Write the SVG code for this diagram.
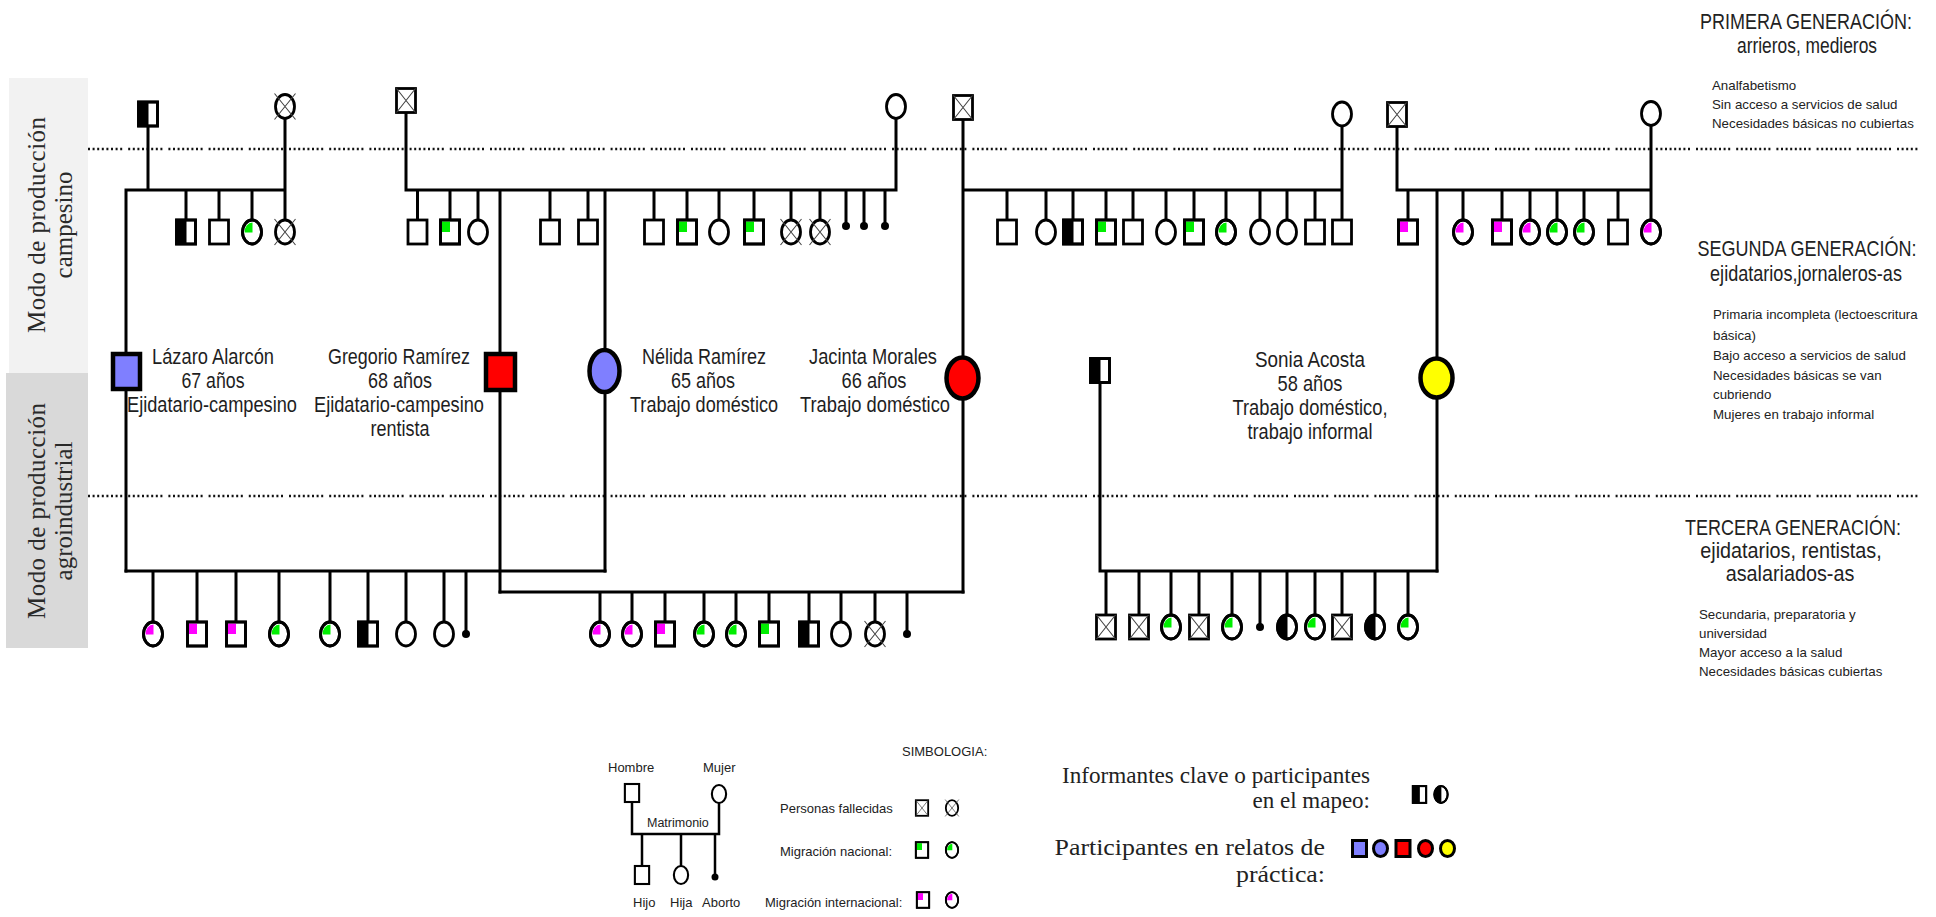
<svg xmlns="http://www.w3.org/2000/svg" width="1936" height="917" viewBox="0 0 1936 917">
<defs>
<style>
.ln{stroke:#000;stroke-width:3;fill:none;stroke-linecap:square}
.o{fill:#fff;stroke:#000;stroke-width:2.8}
.on{fill:none;stroke:#000;stroke-width:2.8}
.x{stroke:#444;stroke-width:1.1;fill:none}
.k{fill:#000}
.g{fill:#00ee00}
.m{fill:#ff00ff}
.big{stroke:#000;stroke-width:4.5}
.dot{stroke:#111;stroke-width:2.5;fill:none;stroke-dasharray:2 2.6 2 2.6 2 2.6 2 2.6 2 2.6 2 2.6 2 2.6 2 6}
.lbl{font-family:"Liberation Sans",Arial,sans-serif;font-size:22px;fill:#1e1e1e;text-anchor:middle}
.hd{font-family:"Liberation Sans",Arial,sans-serif;font-size:22px;fill:#222;text-anchor:middle}
.sm{font-family:"Liberation Sans",Arial,sans-serif;font-size:13.3px;fill:#222}
.lg{font-family:"Liberation Sans",Arial,sans-serif;font-size:13px;fill:#222}
.sf{font-family:"Liberation Serif","Times New Roman",serif;fill:#222;text-anchor:end}
.side{font-family:"Liberation Serif","Times New Roman",serif;font-size:25px;fill:#2a2a2a;text-anchor:middle}
</style>
<g id="sq"><rect class="o" x="-9.5" y="-12" width="19" height="24"/></g>
<g id="ci"><ellipse class="o" rx="9.5" ry="12"/></g>
<g id="sqX"><rect class="o" x="-9.5" y="-12" width="19" height="24"/><path class="x" d="M-9.5,-12L9.5,12M9.5,-12L-9.5,12"/></g>
<g id="ciX"><ellipse class="o" rx="9.5" ry="12"/><path class="x" d="M-10.5,-13L10.5,13M10.5,-13L-10.5,13"/></g>
<g id="sqH"><rect class="o" x="-9.5" y="-12" width="19" height="24"/><rect class="k" x="-9.5" y="-12" width="10" height="24"/><rect class="on" x="-9.5" y="-12" width="19" height="24"/></g>
<g id="ciH"><ellipse class="o" rx="9.5" ry="12"/><path class="k" d="M0.5,-12A9.5,12 0 0 0 0.5,12Z"/><ellipse class="on" rx="9.5" ry="12"/></g>
<g id="sqG"><rect class="o" x="-9.5" y="-12" width="19" height="24"/><rect class="g" x="-8" y="-10.5" width="8" height="10.5"/><rect class="on" x="-9.5" y="-12" width="19" height="24"/></g>
<g id="ciG"><ellipse class="o" rx="9.5" ry="12"/><path class="g" d="M0.5,0.5H-7.5A8,9.5 0 0 1 0.5,-9.5Z"/><ellipse class="on" rx="9.5" ry="12"/></g>
<g id="sqM"><rect class="o" x="-9.5" y="-12" width="19" height="24"/><rect class="m" x="-8" y="-10.5" width="8" height="10.5"/><rect class="on" x="-9.5" y="-12" width="19" height="24"/></g>
<g id="ciM"><ellipse class="o" rx="9.5" ry="12"/><path class="m" d="M0.5,0.5H-7.5A8,9.5 0 0 1 0.5,-9.5Z"/><ellipse class="on" rx="9.5" ry="12"/></g>
<g id="ab"><circle r="4" fill="#000"/></g>
</defs>
<rect width="1936" height="917" fill="#fff"/>

<g id="panels">
<rect x="9" y="78" width="79" height="295" fill="#f2f2f2"/>
<rect x="6" y="373" width="82" height="275" fill="#d9d9d9"/>
<text class="side" transform="translate(45,225) rotate(-90)" textLength="216">Modo de producción</text>
<text class="side" transform="translate(72,225) rotate(-90)">campesino</text>
<text class="side" transform="translate(45,511) rotate(-90)" textLength="216">Modo de producción</text>
<text class="side" transform="translate(72,511) rotate(-90)">agroindustrial</text>
</g>

<g id="guides">
<line class="dot" x1="88" y1="149" x2="1918" y2="149"/>
<line class="dot" x1="88" y1="496" x2="1918" y2="496"/>
</g>

<g id="connectors">
<path class="ln" d="M148,126V190 M126,190H285 M285,118V220 M186,190V220 M219,190V220 M252,190V220 M126,190V571"/>
<path class="ln" d="M406,113V190 M896,118V190 M406,190H896 M417.5,190V220 M450,190V220 M478,190V220 M550,190V220 M588,190V220 M654,190V220 M687,190V220 M719,190V220 M754,190V220 M791,190V220 M820,190V220 M846,190V226 M864,190V226 M885,190V226 M500,190V592 M605,190V571"/>
<path class="ln" d="M963,120V592 M1342,126V220 M963,190H1342 M1007,190V220 M1046,190V220 M1073,190V220 M1106,190V220 M1133,190V220 M1166,190V220 M1194,190V220 M1226,190V220 M1260,190V220 M1287,190V220 M1315,190V220"/>
<path class="ln" d="M1397,127V190 M1651,125V220 M1397,190H1651 M1408,190V220 M1463,190V220 M1502,190V220 M1530,190V220 M1557,190V220 M1584,190V220 M1618,190V220 M1437,190V571"/>
<path class="ln" d="M126,571H605 M153,571V622 M197,571V622 M236,571V622 M279,571V622 M330,571V622 M368,571V622 M406,571V622 M444,571V622 M466,571V634"/>
<path class="ln" d="M500,592H963 M600,592V622 M632,592V622 M665,592V622 M704,592V622 M736,592V622 M769,592V622 M809,592V622 M841,592V622 M875,592V622 M907,592V634"/>
<path class="ln" d="M1100,383V571H1437 M1106,571V615 M1139,571V615 M1171,571V615 M1199,571V615 M1232,571V615 M1260,571V627 M1287,571V615 M1315,571V615 M1342,571V615 M1375,571V615 M1408,571V615"/>
</g>

<g id="gen1">
<g id="a-padre"><use href="#sqH" x="148" y="114"/></g>
<g id="a-madre"><use href="#ciX" x="285" y="106.5"/></g>
<g id="b-padre"><use href="#sqX" x="406" y="100.5"/></g>
<g id="b-madre"><use href="#ci" x="896" y="106.5"/></g>
<g id="c-padre"><use href="#sqX" x="963" y="107.5"/></g>
<g id="c-madre"><use href="#ci" x="1342" y="114"/></g>
<g id="d-padre"><use href="#sqX" x="1397" y="114.5"/></g>
<g id="d-madre"><use href="#ci" x="1651" y="113.5"/></g>
</g>

<g id="gen2">
<g id="a-h1"><use href="#sqH" x="186" y="232"/></g>
<g id="a-h2"><use href="#sq" x="219" y="232"/></g>
<g id="a-h3"><use href="#ciG" x="252" y="232"/></g>
<g id="a-h4"><use href="#ciX" x="285" y="232"/></g>
<g id="b-h1"><use href="#sq" x="417.5" y="232"/></g>
<g id="b-h2"><use href="#sqG" x="450" y="232"/></g>
<g id="b-h3"><use href="#ci" x="478" y="232"/></g>
<g id="b-h4"><use href="#sq" x="550" y="232"/></g>
<g id="b-h5"><use href="#sq" x="588" y="232"/></g>
<g id="b-h6"><use href="#sq" x="654" y="232"/></g>
<g id="b-h7"><use href="#sqG" x="687" y="232"/></g>
<g id="b-h8"><use href="#ci" x="719" y="232"/></g>
<g id="b-h9"><use href="#sqG" x="754" y="232"/></g>
<g id="b-h10"><use href="#ciX" x="791" y="232"/></g>
<g id="b-h11"><use href="#ciX" x="820" y="232"/></g>
<g id="b-ab1"><use href="#ab" x="846" y="226"/></g>
<g id="b-ab2"><use href="#ab" x="864" y="226"/></g>
<g id="b-ab3"><use href="#ab" x="885" y="226"/></g>
<g id="c-h1"><use href="#sq" x="1007" y="232"/></g>
<g id="c-h2"><use href="#ci" x="1046" y="232"/></g>
<g id="c-h3"><use href="#sqH" x="1073" y="232"/></g>
<g id="c-h4"><use href="#sqG" x="1106" y="232"/></g>
<g id="c-h5"><use href="#sq" x="1133" y="232"/></g>
<g id="c-h6"><use href="#ci" x="1166" y="232"/></g>
<g id="c-h7"><use href="#sqG" x="1194" y="232"/></g>
<g id="c-h8"><use href="#ciG" x="1226" y="232"/></g>
<g id="c-h9"><use href="#ci" x="1260" y="232"/></g>
<g id="c-h10"><use href="#ci" x="1287" y="232"/></g>
<g id="c-h11"><use href="#sq" x="1315" y="232"/></g>
<g id="c-h12"><use href="#sq" x="1342" y="232"/></g>
<g id="d-h1"><use href="#sqM" x="1408" y="232"/></g>
<g id="d-h2"><use href="#ciM" x="1463" y="232"/></g>
<g id="d-h3"><use href="#sqM" x="1502" y="232"/></g>
<g id="d-h4"><use href="#ciM" x="1530" y="232"/></g>
<g id="d-h5"><use href="#ciG" x="1557" y="232"/></g>
<g id="d-h6"><use href="#ciG" x="1584" y="232"/></g>
<g id="d-h7"><use href="#sq" x="1618" y="232"/></g>
<g id="d-h8"><use href="#ciM" x="1651" y="232"/></g>

<g id="lazaro"><rect class="big" x="113" y="354" width="27" height="35" fill="#7f7fff"/>
<text class="lbl" x="213" y="364" textLength="122" lengthAdjust="spacingAndGlyphs">Lázaro Alarcón</text>
<text class="lbl" x="213" y="388" textLength="63" lengthAdjust="spacingAndGlyphs">67 años</text>
<text class="lbl" x="212" y="412" textLength="170" lengthAdjust="spacingAndGlyphs">Ejidatario-campesino</text></g>
<g id="gregorio"><rect class="big" x="486" y="354" width="29" height="36" fill="#ff0000"/>
<text class="lbl" x="399" y="364" textLength="142" lengthAdjust="spacingAndGlyphs">Gregorio Ramírez</text>
<text class="lbl" x="400" y="388" textLength="64" lengthAdjust="spacingAndGlyphs">68 años</text>
<text class="lbl" x="399" y="412" textLength="170" lengthAdjust="spacingAndGlyphs">Ejidatario-campesino</text>
<text class="lbl" x="400" y="436" textLength="59" lengthAdjust="spacingAndGlyphs">rentista</text></g>
<g id="nelida"><ellipse class="big" cx="604.5" cy="371" rx="15" ry="21" fill="#7f7fff"/>
<text class="lbl" x="704" y="364" textLength="124" lengthAdjust="spacingAndGlyphs">Nélida Ramírez</text>
<text class="lbl" x="703" y="388" textLength="64" lengthAdjust="spacingAndGlyphs">65 años</text>
<text class="lbl" x="704" y="412" textLength="148" lengthAdjust="spacingAndGlyphs">Trabajo doméstico</text></g>
<g id="jacinta"><ellipse class="big" cx="962.5" cy="378" rx="16" ry="20.5" fill="#ff0000"/>
<text class="lbl" x="873" y="364" textLength="128" lengthAdjust="spacingAndGlyphs">Jacinta Morales</text>
<text class="lbl" x="874" y="388" textLength="65" lengthAdjust="spacingAndGlyphs">66 años</text>
<text class="lbl" x="875" y="412" textLength="150" lengthAdjust="spacingAndGlyphs">Trabajo doméstico</text></g>
<g id="esposo-sonia"><use href="#sqH" x="1100" y="370.5"/></g>
<g id="sonia"><ellipse class="big" cx="1436.5" cy="378" rx="16" ry="19.5" fill="#ffff00"/>
<text class="lbl" x="1310" y="367" textLength="110" lengthAdjust="spacingAndGlyphs">Sonia Acosta</text>
<text class="lbl" x="1310" y="391" textLength="65" lengthAdjust="spacingAndGlyphs">58 años</text>
<text class="lbl" x="1310" y="415" textLength="155" lengthAdjust="spacingAndGlyphs">Trabajo doméstico,</text>
<text class="lbl" x="1310" y="439" textLength="125" lengthAdjust="spacingAndGlyphs">trabajo informal</text></g>
</g>

<g id="gen3">
<g id="ln-h1"><use href="#ciM" x="153" y="634"/></g>
<g id="ln-h2"><use href="#sqM" x="197" y="634"/></g>
<g id="ln-h3"><use href="#sqM" x="236" y="634"/></g>
<g id="ln-h4"><use href="#ciG" x="279" y="634"/></g>
<g id="ln-h5"><use href="#ciG" x="330" y="634"/></g>
<g id="ln-h6"><use href="#sqH" x="368" y="634"/></g>
<g id="ln-h7"><use href="#ci" x="406" y="634"/></g>
<g id="ln-h8"><use href="#ci" x="444" y="634"/></g>
<g id="ln-ab"><use href="#ab" x="466" y="634"/></g>
<g id="gj-h1"><use href="#ciM" x="600" y="634"/></g>
<g id="gj-h2"><use href="#ciM" x="632" y="634"/></g>
<g id="gj-h3"><use href="#sqM" x="665" y="634"/></g>
<g id="gj-h4"><use href="#ciG" x="704" y="634"/></g>
<g id="gj-h5"><use href="#ciG" x="736" y="634"/></g>
<g id="gj-h6"><use href="#sqG" x="769" y="634"/></g>
<g id="gj-h7"><use href="#sqH" x="809" y="634"/></g>
<g id="gj-h8"><use href="#ci" x="841" y="634"/></g>
<g id="gj-h9"><use href="#ciX" x="875" y="634"/></g>
<g id="gj-ab"><use href="#ab" x="907" y="634"/></g>
<g id="s-h1"><use href="#sqX" x="1106" y="627"/></g>
<g id="s-h2"><use href="#sqX" x="1139" y="627"/></g>
<g id="s-h3"><use href="#ciG" x="1171" y="627"/></g>
<g id="s-h4"><use href="#sqX" x="1199" y="627"/></g>
<g id="s-h5"><use href="#ciG" x="1232" y="627"/></g>
<g id="s-ab"><use href="#ab" x="1260" y="627"/></g>
<g id="s-h6"><use href="#ciH" x="1287" y="627"/></g>
<g id="s-h7"><use href="#ciG" x="1315" y="627"/></g>
<g id="s-h8"><use href="#sqX" x="1342" y="627"/></g>
<g id="s-h9"><use href="#ciH" x="1375" y="627"/></g>
<g id="s-h10"><use href="#ciG" x="1408" y="627"/></g>
</g>

<g id="generaciones">
<text class="hd" transform="translate(1806,29) scale(0.818,1)">PRIMERA GENERACIÓN:</text>
<text class="hd" transform="translate(1807,53) scale(0.79,1)">arrieros, medieros</text>
<text class="sm" x="1712" y="90">Analfabetismo</text>
<text class="sm" x="1712" y="109">Sin acceso a servicios de salud</text>
<text class="sm" x="1712" y="128">Necesidades básicas no cubiertas</text>
<text class="hd" transform="translate(1807,256) scale(0.818,1)">SEGUNDA GENERACIÓN:</text>
<text class="hd" transform="translate(1806,281) scale(0.822,1)">ejidatarios,jornaleros-as</text>
<text class="sm" x="1713" y="319">Primaria incompleta (lectoescritura</text>
<text class="sm" x="1713" y="340">básica)</text>
<text class="sm" x="1713" y="360">Bajo acceso a servicios de salud</text>
<text class="sm" x="1713" y="380">Necesidades básicas se van</text>
<text class="sm" x="1713" y="399">cubriendo</text>
<text class="sm" x="1713" y="419">Mujeres en trabajo informal</text>
<text class="hd" transform="translate(1793,535) scale(0.818,1)">TERCERA GENERACIÓN:</text>
<text class="hd" transform="translate(1791,558) scale(0.9,1)">ejidatarios, rentistas,</text>
<text class="hd" transform="translate(1790,581) scale(0.9,1)">asalariados-as</text>
<text class="sm" x="1699" y="619">Secundaria, preparatoria y</text>
<text class="sm" x="1699" y="638">universidad</text>
<text class="sm" x="1699" y="657">Mayor acceso a la salud</text>
<text class="sm" x="1699" y="676">Necesidades básicas cubiertas</text>
</g>

<g id="simbologia">
<path class="ln" style="stroke-width:2.5" d="M632,802V834H719V803 M642,834V867 M681,834V866 M715,834V877"/>
<g id="lg-hombre"><use href="#sq" transform="translate(632,793) scale(0.75)"/><text class="lg" x="608" y="772">Hombre</text></g>
<g id="lg-mujer"><use href="#ci" transform="translate(719,794) scale(0.75)"/><text class="lg" x="703" y="772">Mujer</text></g>
<text class="lg" x="647" y="827" style="font-size:12.5px">Matrimonio</text>
<g id="lg-hijo"><use href="#sq" transform="translate(642,875) scale(0.75)"/><text class="lg" x="633" y="907">Hijo</text></g>
<g id="lg-hija"><use href="#ci" transform="translate(681,875) scale(0.75)"/><text class="lg" x="670" y="907">Hija</text></g>
<g id="lg-aborto"><circle cx="715" cy="877" r="3.5" fill="#000"/><text class="lg" x="702" y="907">Aborto</text></g>
<text class="lg" x="902" y="756">SIMBOLOGIA:</text>
<text class="lg" x="780" y="813">Personas fallecidas</text>
<use href="#sqX" transform="translate(922,808) scale(0.65)"/>
<use href="#ciX" transform="translate(952,808) scale(0.65)"/>
<text class="lg" x="780" y="856">Migración nacional:</text>
<use href="#sqG" transform="translate(922,850) scale(0.65)"/>
<use href="#ciG" transform="translate(952,850) scale(0.65)"/>
<text class="lg" x="765" y="907">Migración internacional:</text>
<use href="#sqM" transform="translate(923,900) scale(0.65)"/>
<use href="#ciM" transform="translate(952,900) scale(0.65)"/>
</g>

<g id="leyenda-participantes">
<text class="sf" x="1370" y="783" style="font-size:23px" textLength="308" lengthAdjust="spacingAndGlyphs">Informantes clave o participantes</text>
<text class="sf" x="1370" y="808" style="font-size:23px">en el mapeo:</text>
<use href="#sqH" transform="translate(1419.5,794.5) scale(0.7)"/>
<use href="#ciH" transform="translate(1441,794.5) scale(0.7)"/>
<text class="sf" transform="translate(1325,855) scale(1.1,1)" style="font-size:23.5px">Participantes en relatos de</text>
<text class="sf" transform="translate(1325,882) scale(1.1,1)" style="font-size:23.5px">práctica:</text>
<rect x="1352.5" y="840.5" width="14" height="16" fill="#7f7fff" stroke="#000" stroke-width="3"/>
<ellipse cx="1380.5" cy="848.5" rx="7" ry="8" fill="#7f7fff" stroke="#000" stroke-width="3"/>
<rect x="1396" y="840.5" width="14" height="16" fill="#ff0000" stroke="#000" stroke-width="3"/>
<ellipse cx="1425.5" cy="848.5" rx="7" ry="8" fill="#ff0000" stroke="#000" stroke-width="3"/>
<ellipse cx="1447.5" cy="848.5" rx="7" ry="8" fill="#ffff00" stroke="#000" stroke-width="3"/>
</g>
</svg>
